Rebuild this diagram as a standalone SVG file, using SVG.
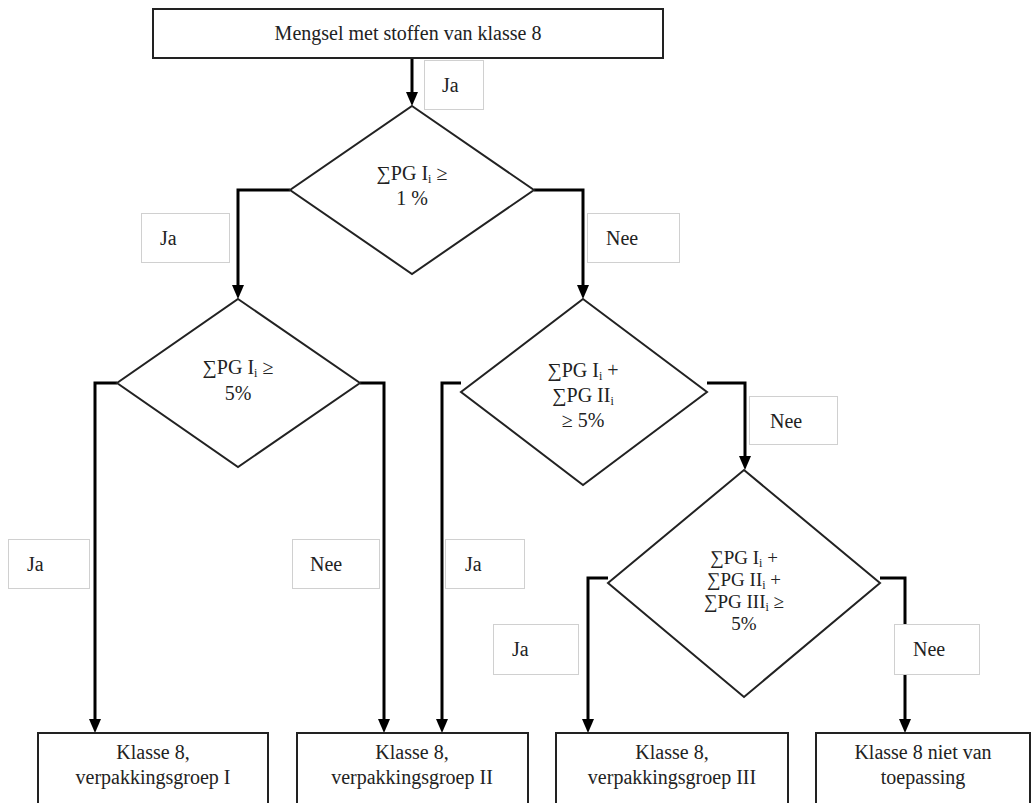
<svg xmlns="http://www.w3.org/2000/svg" width="1036" height="803" viewBox="0 0 1036 803" font-family="'Liberation Serif', 'Times New Roman', serif">
<defs>
<style>
text{font-family:"Liberation Serif","Times New Roman",serif;font-size:20px;fill:#222}
.c{text-anchor:middle}
.node{fill:#fff;stroke:#222;stroke-width:2}
.lbl{fill:#fff;stroke:#d0d0d0;stroke-width:1}
.conn{fill:none;stroke:#000;stroke-width:3}
.sub{font-size:12px}
.d4 text{font-size:19px}
</style>
</defs>
<rect width="1036" height="803" fill="#fff"/>

<g id="connectors">
<path class="conn" d="M412,58 V94"/>
<path class="conn" d="M290,190 H238 V287"/>
<path class="conn" d="M534,190 H583 V287"/>
<path class="conn" d="M117,383 H95 V721"/>
<path class="conn" d="M360,383 H384 V721"/>
<path class="conn" d="M461,383 H442 V721"/>
<path class="conn" d="M707,383 H745 V458"/>
<path class="conn" d="M608,578 H588 V721"/>
<path class="conn" d="M880,578 H905 V721"/>
<g id="arrowheads" fill="#000">
<path d="M406,92 L418,92 L412,106 Z"/>
<path d="M232,285 L244,285 L238,299 Z"/>
<path d="M577,285 L589,285 L583,299 Z"/>
<path d="M89,719 L101,719 L95,733 Z"/>
<path d="M378,719 L390,719 L384,733 Z"/>
<path d="M436,719 L448,719 L442,733 Z"/>
<path d="M739,456 L751,456 L745,470 Z"/>
<path d="M582,719 L594,719 L588,733 Z"/>
<path d="M899,719 L911,719 L905,733 Z"/>
</g>
</g>

<g id="start">
<rect class="node" x="153" y="9" width="510" height="49"/>
<text class="c" x="408" y="40">Mengsel met stoffen van klasse 8</text>
</g>

<g id="d1">
<polygon class="node" points="412,106 534,190 412,274 290,190"/>
<text class="c" x="412" y="180">∑PG I<tspan class="sub" dy="3">i</tspan><tspan dy="-3"> ≥</tspan></text>
<text class="c" x="412" y="205">1 %</text>
</g>

<g id="d2">
<polygon class="node" points="238,299 360,383 238,467 117,383"/>
<text class="c" x="238" y="374">∑PG I<tspan class="sub" dy="3">i</tspan><tspan dy="-3"> ≥</tspan></text>
<text class="c" x="238" y="400">5%</text>
</g>

<g id="d3">
<polygon class="node" points="583,299 707,392 583,485 461,392"/>
<text class="c" x="583" y="377">∑PG I<tspan class="sub" dy="3">i</tspan><tspan dy="-3"> +</tspan></text>
<text class="c" x="583" y="402">∑PG II<tspan class="sub" dy="3">i</tspan></text>
<text class="c" x="583" y="427">≥ 5%</text>
</g>

<g id="d4" class="d4">
<polygon class="node" points="744,470 880,583 744,697 608,583"/>
<text class="c" x="744" y="564">∑PG I<tspan class="sub" dy="3">i</tspan><tspan dy="-3"> +</tspan></text>
<text class="c" x="744" y="586">∑PG II<tspan class="sub" dy="3">i</tspan><tspan dy="-3"> +</tspan></text>
<text class="c" x="744" y="608">∑PG III<tspan class="sub" dy="3">i</tspan><tspan dy="-3"> ≥</tspan></text>
<text class="c" x="744" y="630">5%</text>
</g>

<g id="pg1">
<rect class="node" x="38" y="733" width="230" height="90"/>
<text class="c" x="153" y="759">Klasse 8,</text>
<text class="c" x="153" y="784">verpakkingsgroep I</text>
</g>
<g id="pg2">
<rect class="node" x="297" y="733" width="231" height="90"/>
<text class="c" x="412" y="759">Klasse 8,</text>
<text class="c" x="412" y="784">verpakkingsgroep II</text>
</g>
<g id="pg3">
<rect class="node" x="556" y="733" width="232" height="90"/>
<text class="c" x="672" y="759">Klasse 8,</text>
<text class="c" x="672" y="784">verpakkingsgroep III</text>
</g>
<g id="na">
<rect class="node" x="816" y="733" width="214" height="90"/>
<text class="c" x="923" y="759">Klasse 8 niet van</text>
<text class="c" x="923" y="784">toepassing</text>
</g>

<g id="labels">
<g id="l1"><rect class="lbl" x="424.5" y="60.5" width="59" height="49"/><text x="442" y="92">Ja</text></g>
<g id="l2"><rect class="lbl" x="141.5" y="213.5" width="88" height="49"/><text x="160" y="245">Ja</text></g>
<g id="l3"><rect class="lbl" x="587.5" y="213.5" width="92" height="49"/><text x="606" y="245">Nee</text></g>
<g id="l4"><rect class="lbl" x="749.5" y="396.5" width="88" height="48"/><text x="770" y="428">Nee</text></g>
<g id="l5"><rect class="lbl" x="8.5" y="539.5" width="81" height="49"/><text x="27" y="571">Ja</text></g>
<g id="l6"><rect class="lbl" x="292.5" y="539.5" width="87" height="49"/><text x="310" y="571">Nee</text></g>
<g id="l7"><rect class="lbl" x="445.5" y="539.5" width="79" height="49"/><text x="465" y="571">Ja</text></g>
<g id="l8"><rect class="lbl" x="493.5" y="624.5" width="85" height="50"/><text x="512" y="656">Ja</text></g>
<g id="l9"><rect class="lbl" x="894.5" y="624.5" width="85" height="50"/><text x="913" y="656">Nee</text></g>
</g>
</svg>
